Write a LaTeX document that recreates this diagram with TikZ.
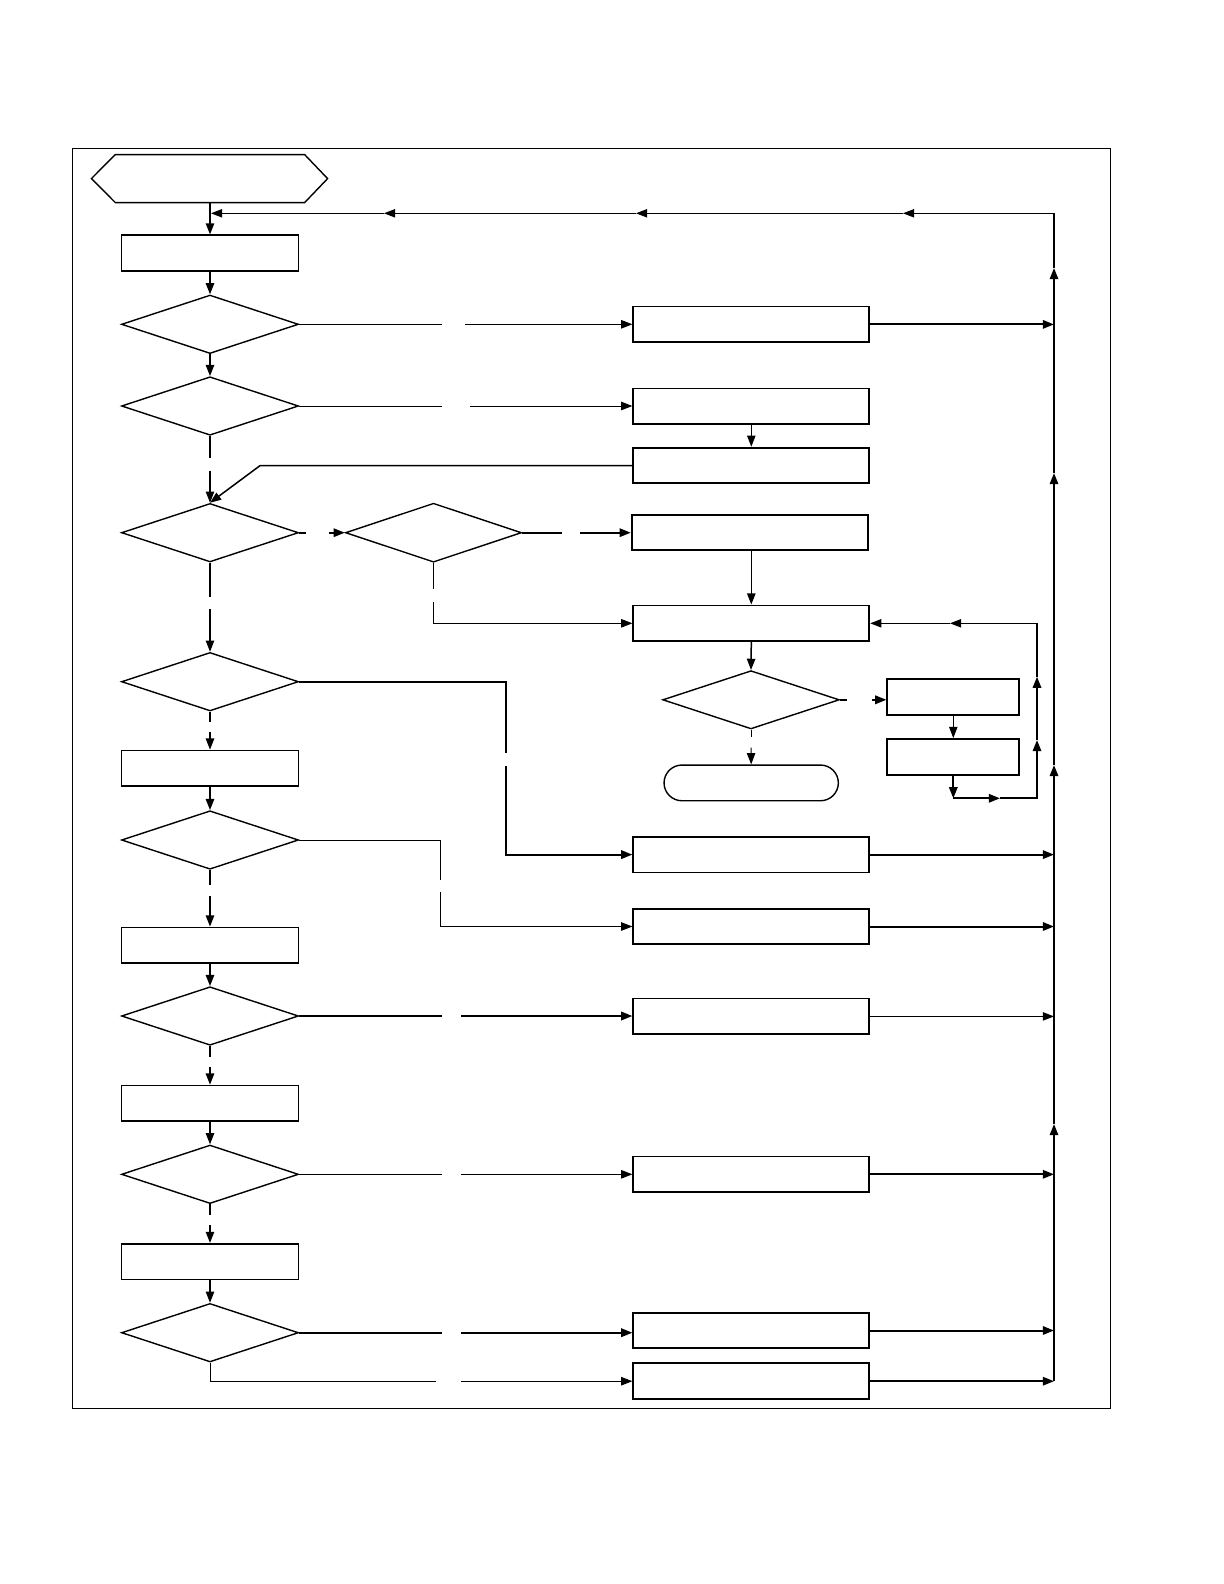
\documentclass[tikz,border=0pt]{standalone}
\usetikzlibrary{arrows.meta,shapes.geometric,shapes.misc,calc}
\begin{document}
\begin{tikzpicture}[x=0.5pt,y=-0.5pt,
  >={Triangle[length=5.6pt,width=4.2pt]},
  thinln/.style={line width=0.5pt},
  midln/.style={line width=0.75pt},
  thickln/.style={line width=1pt},
  box/.style={draw, line width=0.9pt, rectangle, inner sep=0pt, minimum width=88.5pt, minimum height=17.85pt},
  rbox/.style={box, minimum width=118pt},
  sbox/.style={box, minimum width=66pt},
  dec/.style={draw, line width=0.7pt, diamond, inner sep=0pt, minimum width=88.5pt, minimum height=29.25pt},
  term/.style={draw, line width=0.7pt, rounded rectangle, inner sep=0pt, minimum width=87.15pt, minimum height=17.85pt},
]
\useasboundingbox (0,0) rectangle (1224,1584);
\draw[line width=0.5pt] (72.7,148.3) rectangle (1110,1408);

% start hexagon
\node[inner sep=0pt, minimum width=117.7pt, minimum height=23.65pt] (start) at (209.5,178.6) {};
\draw[line width=0.7pt] (start.west) -- ($(start.north west)+(24,0)$) -- ($(start.north east)+(-23,0)$)
  -- (start.east) -- ($(start.south east)+(-23,0)$) -- ($(start.south west)+(24,0)$) -- cycle;

% left column
\node[box] (L1) at (210,253.2) {};
\node[dec] (D1) at (210,324.3) {};
\node[dec] (D2) at (210,406) {};
\node[dec] (D3) at (210,532.7) {};
\node[dec] (D6) at (210,681.7) {};
\node[box] (L4) at (210,768.4) {};
\node[dec] (D7) at (210,840) {};
\node[box] (L5) at (210,945.3) {};
\node[dec] (D8) at (210,1016) {};
\node[box] (L6) at (210,1103.4) {};
\node[dec] (D9) at (210,1174.3) {};
\node[box] (L7) at (210,1261.7) {};
\node[dec] (D10) at (210,1332.7) {};
\node[dec, minimum width=88pt, minimum height=29.5pt] (D4) at (433.5,532.7) {};

% right column
\node[rbox] (R1) at (751.3,324.4) {};
\node[rbox] (R2) at (751.3,406.3) {};
\node[rbox] (R3) at (751.3,465.5) {};
\node[rbox] (R4) at (749.7,532.5) {};
\node[rbox] (R5) at (751.3,623.3) {};
\node[dec, minimum width=88.3pt, minimum height=29.15pt] (D5) at (751,699.8) {};
\node[sbox] (R6) at (953.3,697.2) {};
\node[sbox] (R7) at (953.3,756.8) {};
\node[term] (T) at (751.2,782.9) {};
\node[rbox] (R8) at (751.3,854.6) {};
\node[rbox] (R9) at (751.3,926.5) {};
\node[rbox] (R10) at (751.3,1016.4) {};
\node[rbox] (R11) at (751.3,1174.3) {};
\node[rbox] (R12) at (751.3,1330.5) {};
\node[rbox] (R13) at (751.3,1381.2) {};

% bus and return line
\coordinate (btop) at (1054,213.3);
\coordinate (bbot) at (1054,1381.2);
\coordinate (ba1) at (1054,1124);
\coordinate (ba2) at (1054,765);
\coordinate (ba3) at (1054,473);
\coordinate (ba4) at (1054,268);
\draw[thickln,->] (bbot) -- (ba1);
\draw[thickln,->] (ba1) -- (ba2);
\draw[thickln,->] (ba2) -- (ba3);
\draw[thickln,->] (ba3) -- (ba4);
\draw[thickln] (ba4) -- (btop);
\coordinate (ra1) at (903,213.3);
\coordinate (ra2) at (636,213.3);
\coordinate (ra3) at (384,213.3);
\coordinate (retend) at (211,213.3);
\draw[thinln,->] (btop) -- (ra1);
\draw[thinln,->] (ra1) -- (ra2);
\draw[thinln,->] (ra2) -- (ra3);
\draw[thinln,->] (ra3) -- (retend);

% boxes to bus
\draw[thickln,->] (R1.east) -- (R1.east -| btop);
\draw[thickln,->] (R8.east) -- (R8.east -| btop);
\draw[thickln,->] (R9.east) -- (R9.east -| btop);
\draw[thinln,->] (R10.east) -- (R10.east -| btop);
\draw[thickln,->] (R11.east) -- (R11.east -| btop);
\draw[thickln,->] (R12.east) -- (R12.east -| btop);
\draw[thickln,->] (R13.east) -- (bbot);

% main column
\draw[midln,->] (L1.north |- start.south) -- (L1.north);
\draw[midln,->] (L1.south) -- (D1.north);
\draw[midln,->] (D1.south) -- (D2.north);
\coordinate (g2a) at (210,458.3);
\coordinate (g2b) at (210,470.7);
\draw[midln] (D2.south) -- (g2a);
\draw[midln,->] (g2b) -- (D3.north);
\coordinate (r3k) at (260.2,465.5);
\draw[midln,->] (R3.west) -- (r3k) -- (D3.north);
\coordinate (g3a) at (210,596.7);
\coordinate (g3b) at (210,609);
\draw[midln] (D3.south) -- (g3a);
\draw[midln,->] (g3b) -- (D6.north);
\coordinate (g6a) at (210,721.7);
\coordinate (g6b) at (210,731.7);
\draw[midln] (D6.south) -- (g6a);
\draw[midln,->] (g6b) -- (L4.north);
\draw[midln,->] (L4.south) -- (D7.north);
\coordinate (g7a) at (210,885);
\coordinate (g7b) at (210,896);
\draw[midln] (D7.south) -- (g7a);
\draw[midln,->] (g7b) -- (L5.north);
\draw[midln,->] (L5.south) -- (D8.north);
\coordinate (g8a) at (210,1056.7);
\coordinate (g8b) at (210,1066.7);
\draw[midln] (D8.south) -- (g8a);
\draw[midln,->] (g8b) -- (L6.north);
\draw[midln,->] (L6.south) -- (D9.north);
\coordinate (g9a) at (210,1215);
\coordinate (g9b) at (210,1225);
\draw[midln] (D9.south) -- (g9a);
\draw[midln,->] (g9b) -- (L7.north);
\draw[midln,->] (L7.south) -- (D10.north);

% horizontal branches
\coordinate (h1a) at (442,324.3);
\coordinate (h1b) at (465,324.3);
\draw[thinln] (D1.east) -- (h1a);
\draw[thinln,->] (h1b) -- (R1.west |- h1b);
\coordinate (h2a) at (442,406);
\coordinate (h2b) at (470,406);
\draw[thinln] (D2.east) -- (h2a);
\draw[thinln,->] (h2b) -- (R2.west |- h2b);
\draw[thinln,->] (R2.south) -- (R3.north);
\coordinate (h3a) at (306,532.7);
\coordinate (h3b) at (329,532.7);
\draw[thickln] (D3.east) -- (h3a);
\draw[thickln,->] (h3b) -- (D4.west);
\coordinate (h4a) at (561.8,532.7);
\coordinate (h4b) at (580,532.7);
\draw[thickln] (D4.east) -- (h4a);
\draw[thickln,->] (h4b) -- (R4.west |- h4b);
\coordinate (v4a) at (433.5,589.3);
\coordinate (v4b) at (433.5,602);
\draw[thinln] (D4.south) -- (v4a);
\draw[thinln,->] (v4b) |- (R5.west);
\draw[midln,->] (R5.north |- R4.south) -- (R5.north);
\draw[midln,->] (R5.south) -- (D5.north);
\coordinate (h5a) at (846.7,699.8);
\coordinate (h5b) at (872.3,699.8);
\draw[thickln] (D5.east) -- (h5a);
\draw[thickln,->] (h5b) -- (R6.west |- h5b);
\coordinate (v5a) at (751,736.7);
\coordinate (v5b) at (751,747.7);
\draw[thinln] (D5.south) -- (v5a);
\draw[thinln,->] (v5b) -- (T.north);
\draw[thinln,->] (R6.south) -- (R7.north);
% loop back to R5
\coordinate (la) at (953.3,798.3);
\coordinate (lm1) at (1000,798.3);
\coordinate (lb) at (1037,798.3);
\coordinate (lu1) at (1037,740);
\coordinate (lu2) at (1037,676.7);
\coordinate (lc) at (1037,623.3);
\coordinate (lm2) at (950,623.3);
\draw[thickln,->] (R7.south) -- (la);
\draw[thickln,->] (la) -- (lm1);
\draw[thickln,->] (lm1) -- (lb) -- (lu1);
\draw[thickln,->] (lu1) -- (lu2);
\draw[thickln] (lu2) -- (lc);
\draw[thinln,->] (lc) -- (lm2);
\draw[thinln,->] (lm2) -- (R5.east);
% D6 to R8
\coordinate (k6) at (505.9,681.7);
\coordinate (k6a) at (505.9,753.3);
\coordinate (k6b) at (505.9,766);
\draw[thickln] (D6.east) -- (k6) -- (k6a);
\draw[thickln,->] (k6b) |- (R8.west);
% D7 to R9
\coordinate (k7) at (440.5,840);
\coordinate (k7a) at (440.5,880);
\coordinate (k7b) at (440.5,891.7);
\draw[thinln] (D7.east) -- (k7) -- (k7a);
\draw[thinln,->] (k7b) |- (R9.west);
% D8 to R10
\coordinate (h8a) at (442,1016);
\coordinate (h8b) at (461,1016);
\draw[thickln] (D8.east) -- (h8a);
\draw[thickln,->] (h8b) -- (R10.west |- h8b);
% D9 to R11
\coordinate (h9a) at (442,1174.3);
\coordinate (h9b) at (461,1174.3);
\draw[thinln] (D9.east) -- (h9a);
\draw[thinln,->] (h9b) -- (R11.west |- h9b);
% D10 to R12 and R13
\coordinate (h10a) at (442,1332.7);
\coordinate (h10b) at (461,1332.7);
\draw[thickln] (D10.east) -- (h10a);
\draw[thickln,->] (h10b) -- (R12.west |- h10b);
\coordinate (b10a) at (435.5,1381.2);
\coordinate (b10b) at (461,1381.2);
\draw[thinln] (D10.south) |- (b10a);
\draw[thinln,->] (b10b) -- (R13.west);
\end{tikzpicture}
\end{document}
